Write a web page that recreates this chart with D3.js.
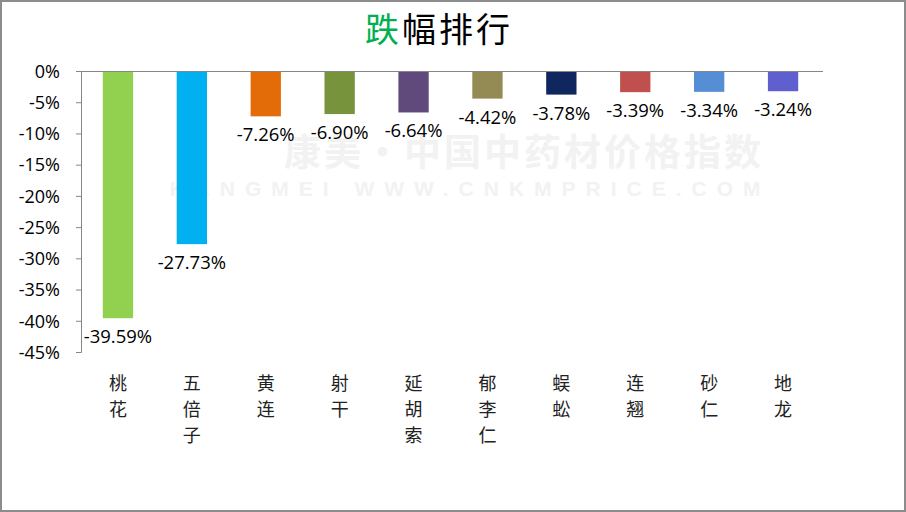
<!DOCTYPE html>
<html>
<head>
<meta charset="utf-8">
<script src="https://cdn.jsdelivr.net/npm/d3@7"></script>
<style>
  body { margin: 0; background: #fff; }
  svg { display: block; }
</style>
</head>
<body>
<svg id="chart" width="906" height="512"></svg>
<script>
// data
const categories = ['桃花', '五倍子', '黄连', '射干', '延胡索', '郁李仁', '蜈蚣', '连翘', '砂仁', '地龙'];
const values = [-39.59, -27.73, -7.26, -6.90, -6.64, -4.42, -3.78, -3.39, -3.34, -3.24];
const barColors = ['#92d050', '#00b0f0', '#e36c09', '#77933c', '#604a7b', '#948a54', '#10265e', '#c0504d', '#558ed5', '#5f5fcf'];
const yTicks = [0, -5, -10, -15, -20, -25, -30, -35, -40, -45];

const width = 906, height = 512;
const margin = { top: 71, right: 86, bottom: 160, left: 81 };
const cjk = "'Noto Sans CJK SC', 'Noto Sans', sans-serif";
const num = "'Open Sans', 'Noto Sans', sans-serif";

const svg = d3.select('#chart');

// outer frame
svg.append('rect')
  .attr('x', 1).attr('y', 1)
  .attr('width', width - 2).attr('height', height - 2)
  .attr('fill', '#fff')
  .attr('stroke', '#8c8c8c')
  .attr('stroke-width', 2);

// faint watermark
svg.append('text')
  .attr('x', 524).attr('y', 166)
  .attr('text-anchor', 'middle')
  .style('font-family', cjk)
  .style('font-size', '37px')
  .style('font-weight', 'bold')
  .style('letter-spacing', '3px')
  .attr('fill', '#f2f2f2')
  .text('康美·中国中药材价格指数');
svg.append('text')
  .attr('x', 470).attr('y', 196)
  .attr('text-anchor', 'middle')
  .style('font-family', "'Liberation Sans', sans-serif")
  .style('font-size', '21px')
  .style('font-weight', 'bold')
  .style('letter-spacing', '10px')
  .attr('fill', '#f2f2f2')
  .text('KANGMEI WWW.CNKMPRICE.COM');

// title
const title = svg.append('text')
  .attr('x', 439).attr('y', 42)
  .attr('text-anchor', 'middle')
  .style('font-family', cjk)
  .style('font-size', '34px')
  .style('letter-spacing', '3px');
title.append('tspan').attr('fill', '#00b050').text('跌');
title.append('tspan').attr('fill', '#000').text('幅排行');

const innerW = width - margin.left - margin.right;
const innerH = height - margin.top - margin.bottom;

const g = svg.append('g')
  .attr('transform', `translate(${margin.left},${margin.top})`);

const x = d3.scaleBand()
  .domain(categories)
  .range([0, innerW])
  .paddingInner(0.59)
  .paddingOuter(0.295);

const y = d3.scaleLinear()
  .domain([0, -45])
  .range([0, innerH]);

// bars
g.selectAll('.bar')
  .data(values)
  .enter()
  .append('rect')
  .attr('class', 'bar')
  .attr('x', (d, i) => x(categories[i]))
  .attr('y', y(0))
  .attr('width', x.bandwidth())
  .attr('height', d => y(d) - y(0))
  .attr('fill', (d, i) => barColors[i]);

// value labels
g.selectAll('.val')
  .data(values)
  .enter()
  .append('text')
  .attr('class', 'val')
  .attr('x', (d, i) => x(categories[i]) + x.bandwidth() / 2)
  .attr('y', d => y(d) + 25)
  .attr('text-anchor', 'middle')
  .style('font-family', num)
  .style('font-size', '18.5px')
  .attr('fill', '#000')
  .text(d => d.toFixed(2) + '%');

// y axis
const yAxis = d3.axisLeft(y)
  .tickValues(yTicks)
  .tickSize(5)
  .tickFormat(d => d + '%');

const yg = g.append('g').call(yAxis);
yg.select('.domain').attr('stroke', '#868686').attr('d', `M-5,0.5H0.5V${innerH + 0.5}H-5`);
yg.selectAll('.tick line').attr('stroke', '#868686');
yg.selectAll('.tick text')
  .attr('x', -21)
  .attr('dy', '0.35em')
  .style('font-family', num)
  .style('font-size', '18px')
  .attr('fill', '#000');

// zero line (category axis at top)
g.append('line')
  .attr('x1', 0).attr('x2', innerW + 3)
  .attr('y1', 0.5).attr('y2', 0.5)
  .attr('stroke', '#868686');

// category labels, stacked vertically
const cat = g.selectAll('.cat')
  .data(categories)
  .enter()
  .append('text')
  .attr('class', 'cat')
  .attr('text-anchor', 'middle')
  .style('font-family', cjk)
  .style('font-size', '18px')
  .attr('fill', '#222');

cat.each(function (d) {
  const el = d3.select(this);
  const cx = x(d) + x.bandwidth() / 2;
  d.split('').forEach((ch, i) => {
    el.append('tspan')
      .attr('x', cx)
      .attr('y', innerH + 38 + i * 26)
      .text(ch);
  });
});
</script>
</body>
</html>
